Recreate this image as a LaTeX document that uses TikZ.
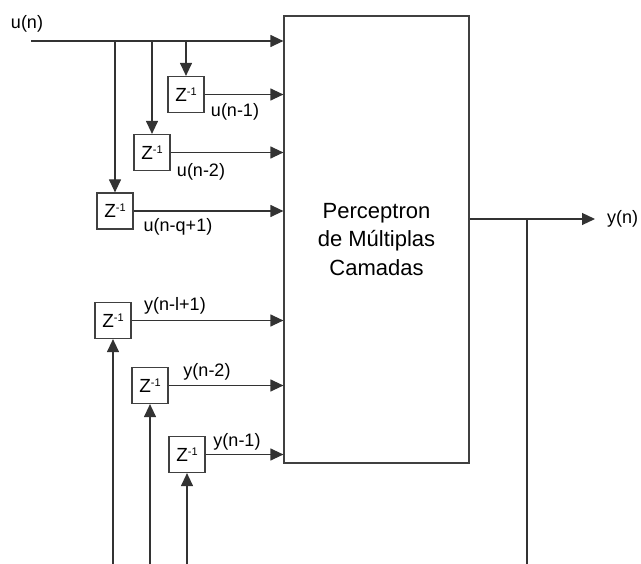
\documentclass[tikz,border=0pt]{standalone}
\usepackage{fontspec}
\setmainfont{Liberation Sans}
\usetikzlibrary{arrows.meta}
\begin{document}
\begin{tikzpicture}[x=1pt,y=-1pt,
  wire/.style={line width=1.2pt,draw=black!80},
  arr/.style={wire,-{Triangle[length=13pt,width=12pt]}},
  zbox/.style={draw=black!75,line width=1.2pt,minimum width=36pt,minimum height=36pt,inner sep=0pt,font=\fontsize{19}{22}\selectfont},
  lbl/.style={inner sep=0pt,font=\fontsize{18}{20}\selectfont}]
\useasboundingbox (0,0) rectangle (641,564);
\newcommand{\zinv}{Z\raisebox{0.6ex}{\fontsize{11}{11}\selectfont -1}}
\node[draw=black!75,line width=1.2pt,minimum width=185pt,minimum height=447pt,inner sep=0pt,align=center,
  font=\fontsize{22}{28.5}\selectfont] (mlp) at (376.5,239.5) {Perceptron\\de Múltiplas\\Camadas};
% input chain
\coordinate (in) at (31,41);
\coordinate (b1) at (186,41);
\coordinate (b2) at (152,41);
\coordinate (b3) at (115,41);
\node[zbox] (z1) at (186,94.5) {\zinv};
\node[zbox] (z2) at (152,152.5) {\zinv};
\node[zbox] (z3) at (115,211) {\zinv};
\draw[arr] (in) -- (in -| mlp.west);
\draw[arr] (b1) -- (z1.north);
\draw[arr] (b2) -- (z2.north);
\draw[arr] (b3) -- (z3.north);
\draw[arr] (z1.east) -- (z1.east -| mlp.west);
\draw[arr] (z2.east) -- (z2.east -| mlp.west);
\draw[arr] (z3.east) -- (z3.east -| mlp.west);
\node[lbl] (lun) at (27,24) {u(n)};
\node[lbl] (lu1) at (235,112) {u(n-1)};
\node[lbl] (lu2) at (201,172) {u(n-2)};
\node[lbl] (lu3) at (178,227) {u(n-q+1)};
% feedback chain
\node[zbox] (z4) at (113,320.5) {\zinv};
\node[zbox] (z5) at (150,385.5) {\zinv};
\node[zbox] (z6) at (187,454.5) {\zinv};
\coordinate (f4) at (113,564);
\coordinate (f5) at (150,564);
\coordinate (f6) at (187,564);
\draw[arr] (f4) -- (z4.south);
\draw[arr] (f5) -- (z5.south);
\draw[arr] (f6) -- (z6.south);
\draw[arr] (z4.east) -- (z4.east -| mlp.west);
\draw[arr] (z5.east) -- (z5.east -| mlp.west);
\draw[arr] (z6.east) -- (z6.east -| mlp.west);
\node[lbl] (ly4) at (175,306) {y(n-l+1)};
\node[lbl] (ly5) at (207,372) {y(n-2)};
\node[lbl] (ly6) at (237,442) {y(n-1)};
% output
\coordinate (oy) at (0,219);
\coordinate (otip) at (595,219);
\coordinate (j) at (527,219);
\coordinate (jb) at (527,564);
\draw[arr] (mlp.east |- oy) -- (otip);
\draw[wire] (j) -- (jb);
\node[lbl,anchor=west] (lyn) at (607,219) {y(n)};
\end{tikzpicture}
\end{document}
